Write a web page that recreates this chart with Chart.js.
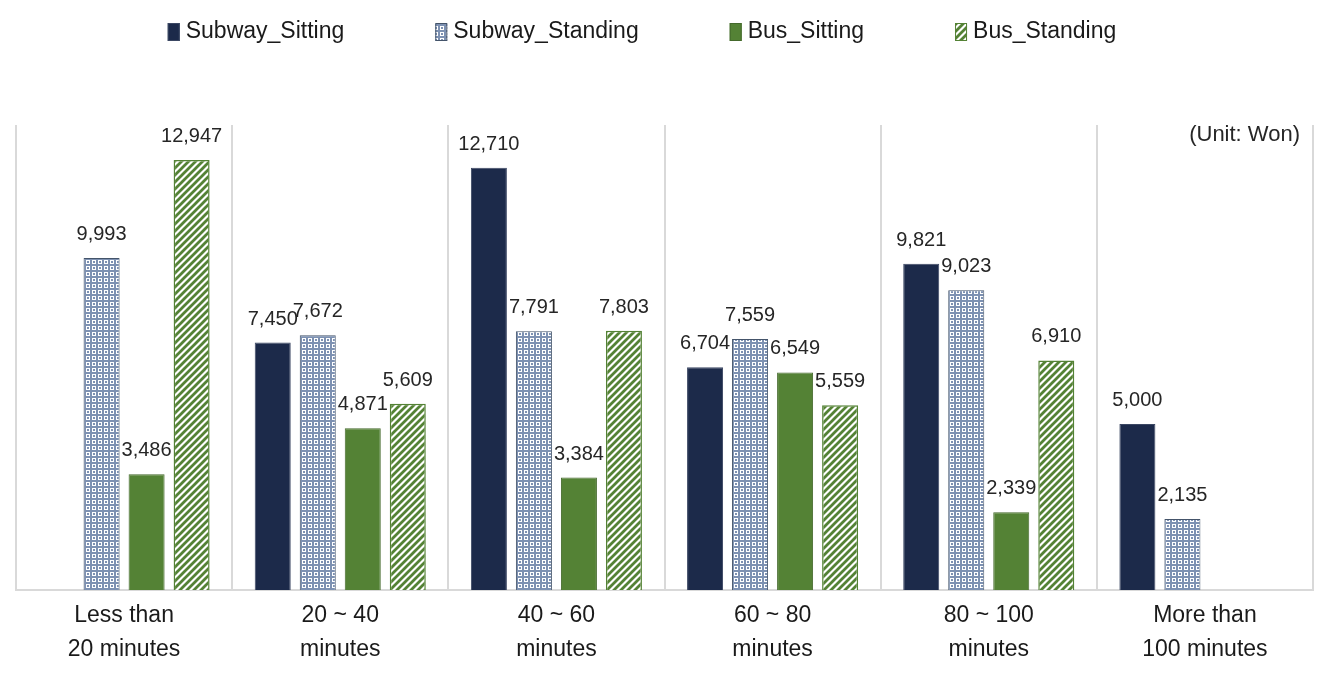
<!DOCTYPE html>
<html>
<head>
<meta charset="utf-8">
<script src="https://cdn.jsdelivr.net/npm/chart.js@4/dist/chart.umd.min.js"></script>
<style>
  body { margin: 0; background: #fff; }
</style>
</head>
<body>
<canvas id="chart" width="1323" height="676"></canvas>
<script>
const categories = [
  ['Less than', '20 minutes'],
  ['20 ~ 40', 'minutes'],
  ['40 ~ 60', 'minutes'],
  ['60 ~ 80', 'minutes'],
  ['80 ~ 100', 'minutes'],
  ['More than', '100 minutes']
];
const seriesNames = ['Subway_Sitting', 'Subway_Standing', 'Bus_Sitting', 'Bus_Standing'];
const subwaySitting = [null, 7450, 12710, 6704, 9821, 5000];
const subwayStanding = [9993, 7672, 7791, 7559, 9023, 2135];
const busSitting = [3486, 4871, 3384, 6549, 2339, null];
const busStanding = [12947, 5609, 7803, 5559, 6910, null];
const unitText = '(Unit: Won)';

const FONT = "'Liberation Sans', Arial, sans-serif";
const NAVY = '#1c2a4a';
const GREEN = '#548235';
const SLATE = '#7d91b2';

// lattice pattern for subway standing
function latticePattern() {
  const s = 6;
  const c = document.createElement('canvas');
  c.width = s; c.height = s;
  const g = c.getContext('2d');
  g.fillStyle = '#fff';
  g.fillRect(0, 0, s, s);
  g.fillStyle = SLATE;
  g.fillRect(0, 0, s, 2);
  g.fillRect(0, 0, 2, s);
  g.fillRect(3, 3, 2, 2);
  return g.createPattern(c, 'repeat');
}

// diagonal stripes for bus standing
function stripePattern() {
  const s = 7;
  const c = document.createElement('canvas');
  c.width = s; c.height = s;
  const g = c.getContext('2d');
  g.fillStyle = '#fff';
  g.fillRect(0, 0, s, s);
  g.strokeStyle = GREEN;
  g.lineWidth = 2.8;
  g.beginPath();
  g.moveTo(-1, s + 1); g.lineTo(s + 1, -1);
  g.moveTo(-1, 1); g.lineTo(1, -1);
  g.moveTo(s - 1, s + 1); g.lineTo(s + 1, s - 1);
  g.stroke();
  return g.createPattern(c, 'repeat');
}

const fills = [NAVY, latticePattern(), GREEN, stripePattern()];
const borders = ['#3b4763', '#44546a', '#44692c', GREEN];
const values = [subwaySitting, subwayStanding, busSitting, busStanding];

const valueLabels = {
  id: 'valueLabels',
  afterDatasetsDraw(chart) {
    const ctx = chart.ctx;
    ctx.save();
    ctx.font = '20px ' + FONT;
    ctx.fillStyle = '#262626';
    ctx.textAlign = 'center';
    ctx.textBaseline = 'alphabetic';
    chart.data.datasets.forEach((ds, i) => {
      chart.getDatasetMeta(i).data.forEach((bar, j) => {
        const v = ds.data[j];
        if (v == null) return;
        ctx.fillText(v.toLocaleString('en-US'), bar.x, bar.y - 18);
      });
    });
    // unit note
    ctx.font = '22px ' + FONT;
    ctx.textAlign = 'right';
    ctx.textBaseline = 'middle';
    ctx.fillText(unitText, chart.chartArea.right - 13, chart.chartArea.top + 10);
    ctx.restore();
  }
};

const topLegend = {
  id: 'topLegend',
  afterDraw(chart) {
    const ctx = chart.ctx;
    ctx.save();
    ctx.font = '23px ' + FONT;
    const boxW = 12, boxH = 18, gapText = 6, gapItem = 91;
    const widths = chart.data.datasets.map(ds => boxW + gapText + ctx.measureText(ds.label).width);
    const total = widths.reduce((a, b) => a + b, 0) + gapItem * (widths.length - 1);
    let x = 642 - total / 2;
    const y = 32;
    chart.data.datasets.forEach((ds, i) => {
      ctx.fillStyle = ds.backgroundColor;
      ctx.fillRect(x, y - boxH / 2, boxW, boxH);
      ctx.strokeStyle = ds.borderColor;
      ctx.lineWidth = 1;
      ctx.strokeRect(x + 0.5, y - boxH / 2 + 0.5, boxW - 1, boxH - 1);
      ctx.fillStyle = '#1a1a1a';
      ctx.textAlign = 'left';
      ctx.textBaseline = 'middle';
      ctx.fillText(ds.label, x + boxW + gapText, y);
      x += widths[i] + gapItem;
    });
    ctx.restore();
  }
};

new Chart(document.getElementById('chart').getContext('2d'), {
  type: 'bar',
  data: {
    labels: categories,
    datasets: seriesNames.map((name, i) => ({
      label: name,
      data: values[i],
      backgroundColor: fills[i],
      borderColor: borders[i],
      borderWidth: i === 3 ? 1.5 : 1,
      categoryPercentage: 0.833,
      barPercentage: 0.8
    }))
  },
  options: {
    responsive: false,
    animation: false,
    layout: { padding: { top: 125, left: 16, right: 10, bottom: 0 } },
    plugins: {
      legend: { display: false },
      tooltip: { enabled: false }
    },
    scales: {
      x: {
        grid: { color: '#d9d9d9', lineWidth: 2, drawTicks: false, offset: true },
        border: { color: '#d9d9d9', width: 2 },
        ticks: {
          color: '#1a1a1a',
          padding: 9,
          font: { family: FONT, size: 23, lineHeight: 1.478 }
        }
      },
      y: {
        display: false,
        min: 0,
        max: 14000
      }
    }
  },
  plugins: [valueLabels, topLegend]
});
</script>
</body>
</html>
